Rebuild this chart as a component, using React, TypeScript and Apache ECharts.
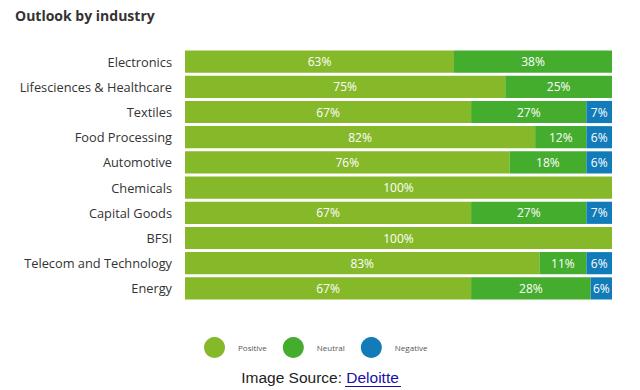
import React, { useEffect, useRef } from "react";
import * as echarts from "echarts";

const categories = [
  "Electronics",
  "Lifesciences & Healthcare",
  "Textiles",
  "Food Processing",
  "Automotive",
  "Chemicals",
  "Capital Goods",
  "BFSI",
  "Telecom and Technology",
  "Energy",
];
const positive = [63, 75, 67, 82, 76, 100, 67, 100, 83, 67];
const neutral = [38, 25, 27, 12, 18, 0, 27, 0, 11, 28];
const negative = [0, 0, 7, 6, 6, 0, 7, 0, 6, 6];

const seriesNames = ["Positive", "Neutral", "Negative"];
const colors = ["#86b92a", "#45ad2d", "#127cb8"];

export default function App() {
  const ref = useRef<HTMLDivElement>(null);
  useEffect(() => {
    const chart = echarts.init(ref.current!, null, { renderer: "svg" });
    const data = [positive, neutral, negative];
    chart.setOption({
      animation: false,
      backgroundColor: "#ffffff",
      title: {
        text: "Outlook by industry",
        left: 15,
        top: 8,
        padding: 0,
        textStyle: {
          fontFamily: "Open Sans",
          fontWeight: "bold",
          fontSize: 14,
          color: "#333333",
        },
      },
      grid: { left: 185, right: 28, top: 49, bottom: 89 },
      xAxis: {
        type: "value",
        min: 0,
        max: 100,
        show: false,
      },
      yAxis: {
        type: "category",
        data: categories,
        inverse: true,
        axisLine: { show: false },
        axisTick: { show: false },
        axisLabel: {
          color: "#333333",
          fontFamily: "Open Sans",
          fontSize: 12.8,
          margin: 13,
        },
      },
      legend: {
        data: seriesNames,
        top: 332,
        left: 199,
        icon: "circle",
        itemWidth: 21,
        itemHeight: 21,
        itemGap: 16,
        textStyle: {
          fontSize: 8,
          color: "#555555",
          fontFamily: "Open Sans",
          padding: [0, 0, 0, 8],
        },
      },
      series: seriesNames.map((name, i) => ({
        name,
        type: "bar",
        stack: "total",
        barCategoryGap: "12%",
        clip: true,
        itemStyle: { color: colors[i] },
        label: {
          show: true,
          position: "inside",
          color: "#ffffff",
          fontFamily: "Open Sans",
          fontSize: 12,
          formatter: (p: any) => (p.value > 0 ? p.value + "%" : ""),
        },
        data: data[i],
      })),
      graphic: [
        {
          type: "text",
          left: "center",
          top: 369,
          style: {
            text: "Image Source: {link|Deloitte}",
            fontFamily: "Liberation Sans",
            fontSize: 15.5,
            fill: "#222222",
            rich: {
              link: {
                fontFamily: "Liberation Sans",
                fontSize: 15.5,
                fill: "#1a0dab",
                color: "#1a0dab",
              },
            },
          },
        },
        {
          type: "line",
          shape: { x1: 345, y1: 386.5, x2: 401, y2: 386.5 },
          style: { stroke: "#1a0dab", lineWidth: 1 },
        },
      ],
    });
    return () => chart.dispose();
  }, []);
  return (
    <div
      ref={ref}
      style={{ position: "absolute", left: 0, top: 0, width: 640, height: 390 }}
    />
  );
}
